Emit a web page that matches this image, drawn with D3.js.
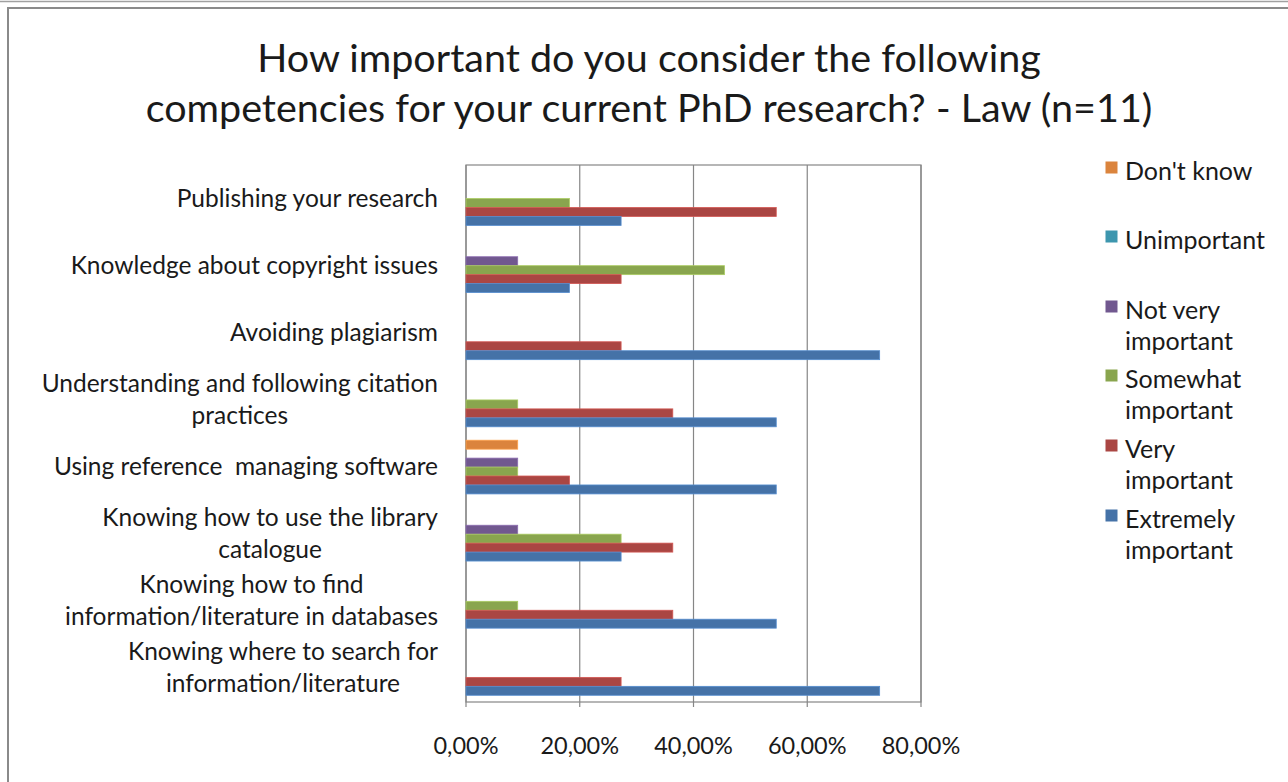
<!DOCTYPE html>
<html><head><meta charset="utf-8">
<script src="https://cdn.jsdelivr.net/npm/d3@7"></script>
<style>body{margin:0;background:#fff}svg{display:block}text{font-family:Lato,"Open Sans",sans-serif;fill:#1a1a1a;white-space:pre}</style>
</head><body><svg id="c" width="1288" height="782"></svg>
<script>
const categories = ["Publishing your research","Knowledge about copyright issues","Avoiding plagiarism","Understanding and following citation|practices","Using reference  managing software","Knowing how to use the library|catalogue","Knowing how to find|information/literature in databases","Knowing where to search for|information/literature"];
const seriesNames = ["Don't know","Unimportant","Not very important","Somewhat important","Very important","Extremely important"];
const legendLabels = [["Don't know"],["Unimportant"],["Not very","important"],["Somewhat","important"],["Very","important"],["Extremely","important"]];
const colors = ["#DB843D","#3D96AE","#71588F","#89A54E","#AA4643","#4572A7"];
const dontKnow    = [0,0,0,0,9.09,0,0,0];
const unimportant = [0,0,0,0,0,0,0,0];
const notVery     = [0,9.09,0,0,9.09,9.09,0,0];
const somewhat    = [18.18,45.45,0,9.09,9.09,27.27,9.09,0];
const very        = [54.55,27.27,27.27,36.36,18.18,36.36,36.36,27.27];
const extremely   = [27.27,18.18,72.73,54.55,54.55,27.27,54.55,72.73];
const seriesValues = [dontKnow,unimportant,notVery,somewhat,very,extremely];
const xTicks = [0,0.2,0.4,0.6,0.8];
const titleLines = ["How important do you consider the following","competencies for your current PhD research? - Law (n=11)"];

const svg = d3.select("#c");
// frame
svg.append("line").attr("x1",0).attr("x2",1288).attr("y1",1.5).attr("y2",1.5).attr("stroke","#a0a0a0").attr("stroke-width",1.5);
svg.append("rect").attr("x",8).attr("y",8).attr("width",1400).attr("height",900).attr("fill","#fff").attr("stroke","#8a8a8a").attr("stroke-width",2);

// title
const tfs = 39.5;
titleLines.forEach((t,i)=>{
  svg.append("text").attr("x",649).attr("y",72+i*50).attr("text-anchor","middle").attr("font-size",tfs).text(t);
});

const x = d3.scaleLinear().domain([0,0.8]).range([466,921]);
const y = d3.scaleBand().domain(categories).range([165,702]).paddingInner(0.2).paddingOuter(0.1);
const yi = d3.scaleBand().domain(seriesNames).range([0,y.bandwidth()]);

// plot border and grid
const g = svg.append("g");
xTicks.forEach(t=>{
  g.append("line").attr("x1",x(t)).attr("x2",x(t)).attr("y1",165).attr("y2",707).attr("stroke","#868686").attr("stroke-width",1.2);
});
g.append("rect").attr("x",x(0)).attr("y",165).attr("width",x(0.8)-x(0)).attr("height",537).attr("fill","none").attr("stroke","#868686").attr("stroke-width",1.2);

// bars
seriesNames.forEach((s,si)=>{
  g.selectAll(null).data(categories.map((c,ci)=>({c,v:seriesValues[si][ci]/100}))).enter()
   .filter(d=>d.v>0)
   .append("rect")
   .attr("x",x(0)).attr("y",d=>y(d.c)+yi(s))
   .attr("width",d=>x(d.v)-x(0)).attr("height",yi.bandwidth())
   .attr("fill",colors[si]).attr("stroke",d3.color(colors[si]).brighter(0.6)).attr("stroke-width",0.8);
});

// x axis labels
const fmt = v => d3.format(".2%")(v).replace(".",",");
xTicks.forEach(t=>{
  svg.append("text").attr("x",x(t)).attr("y",754).attr("text-anchor","middle").attr("font-size",23.5).text(fmt(t));
});

// category labels
const lfs = 24.5;
categories.forEach(c=>{
  const lines = c.split("|");
  const cy = y(c)+y.bandwidth()/2;
  const grp = svg.append("g");
  const texts = lines.map((l,i)=>grp.append("text").attr("font-size",lfs).attr("y",cy+8+(i-(lines.length-1)/2)*32).text(l));
  const widths = texts.map(t=>t.node().getComputedTextLength());
  const maxW = d3.max(widths);
  const right = 438;
  texts.forEach((t,i)=>t.attr("x",right-maxW/2).attr("text-anchor","middle"));
});

// legend
const legY = [172,241,311,380,450,520];
legendLabels.forEach((ls,i)=>{
  svg.append("rect").attr("x",1105.5).attr("y",legY[i]-10.5).attr("width",12).attr("height",12).attr("fill",colors[i]);
  ls.forEach((l,j)=>{
    svg.append("text").attr("x",1125).attr("y",legY[i]+8+j*31).attr("font-size",25).text(l);
  });
});
</script></body></html>
